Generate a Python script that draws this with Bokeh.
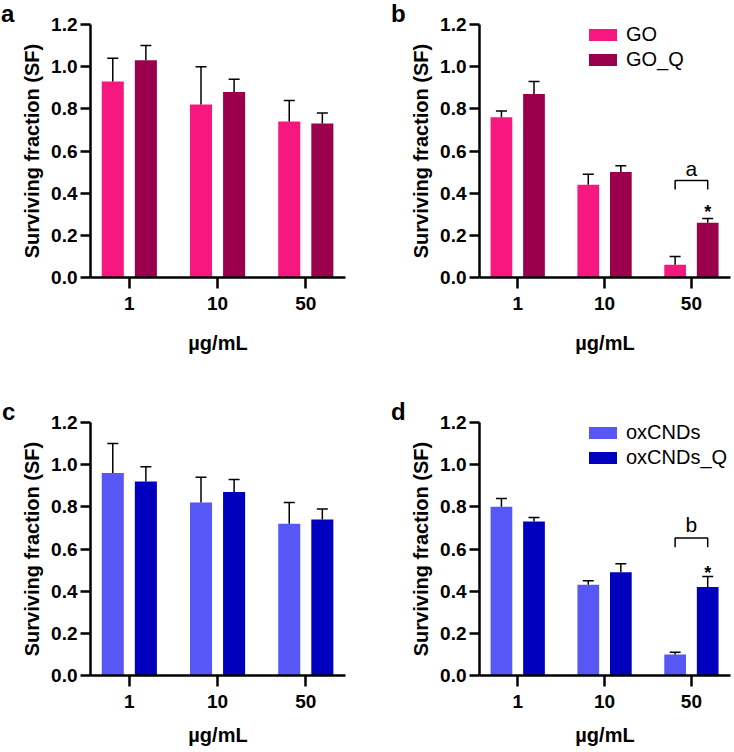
import numpy as np
from bokeh.plotting import figure
from bokeh.models import (Range1d, FixedTicker, ColumnDataSource, Whisker, TeeHead,
                          Legend, LegendItem, PrintfTickFormatter, Div)
from bokeh.layouts import column, row
from bokeh.embed import file_html
from bokeh.resources import INLINE
from bokeh.core.properties import value

# ---------------- data ----------------
concentrations = ["1", "10", "50"]
y_ticks = [0.0, 0.2, 0.4, 0.6, 0.8, 1.0, 1.2]

go_a = [0.93, 0.82, 0.74]
go_a_err = [0.11, 0.18, 0.10]
goq_a = [1.03, 0.88, 0.73]
goq_a_err = [0.07, 0.06, 0.05]

go_b = [0.76, 0.44, 0.06]
go_b_err = [0.03, 0.05, 0.04]
goq_b = [0.87, 0.50, 0.26]
goq_b_err = [0.06, 0.03, 0.02]

ox_c = [0.96, 0.82, 0.72]
ox_c_err = [0.14, 0.12, 0.10]
oxq_c = [0.92, 0.87, 0.74]
oxq_c_err = [0.07, 0.06, 0.05]

ox_d = [0.80, 0.43, 0.10]
ox_d_err = [0.04, 0.02, 0.01]
oxq_d = [0.73, 0.49, 0.42]
oxq_d_err = [0.02, 0.04, 0.05]

go_names = ["GO", "GO_Q"]
ox_names = ["oxCNDs", "oxCNDs_Q"]
go_colors = ["#F7187F", "#9B004C"]
ox_colors = ["#5757F5", "#0000BE"]

# significance annotations (panels b and d), at the 50 µg/mL group
sig_group = 2
sig_b = dict(label="a", top=0.46, leg=0.417, label_y=0.516, star_y=0.313)
sig_d = dict(label="b", top=0.652, leg=0.608, label_y=0.715, star_y=0.488)

FONT = "Liberation Sans"
OFFSET = 0.1875
BAR_W = 0.25
X_START = -0.44
X_END = 2.45


def letter_div(letter, w, h, left, top):
    html = ('<div style="position:relative; left:%dpx; top:%dpx; font-family:\'%s\'; '
            'font-weight:bold; font-size:24px; line-height:28px; color:black; '
            'margin:0; padding:0;">%s</div>') % (left, top, FONT, letter)
    return Div(text=html, width=w, height=h, margin=0)


def make_panel(s1, e1, s2, e2, colors, names, fig_w, fig_h,
               left, right, top, bottom, xlabel_standoff, legend_loc=None, sig=None):
    p = figure(width=fig_w, height=fig_h, output_backend="svg", toolbar_location=None,
               x_range=Range1d(X_START, X_END), y_range=Range1d(0, 1.2),
               min_border_left=left, min_border_right=right,
               min_border_top=top, min_border_bottom=bottom)
    p.outline_line_color = None
    p.xgrid.visible = False
    p.ygrid.visible = False

    idx = np.arange(len(concentrations))
    src1 = ColumnDataSource(dict(x=idx - OFFSET, top=s1, upper=np.array(s1) + np.array(e1)))
    src2 = ColumnDataSource(dict(x=idx + OFFSET, top=s2, upper=np.array(s2) + np.array(e2)))
    r1 = p.vbar(x="x", top="top", width=BAR_W, source=src1, fill_color=colors[0], line_color=None)
    r2 = p.vbar(x="x", top="top", width=BAR_W, source=src2, fill_color=colors[1], line_color=None)
    for src in (src1, src2):
        w = Whisker(base="x", lower="top", upper="upper", source=src, dimension="height",
                    line_color="black", line_width=1.5, lower_head=None,
                    upper_head=TeeHead(size=11, line_color="black", line_width=1.5),
                    level="overlay")
        p.add_layout(w)

    for ax in (p.xaxis[0], p.yaxis[0]):
        ax.axis_line_width = 2.5
        ax.axis_line_color = "black"
        ax.major_tick_line_width = 2.5
        ax.major_tick_line_color = "black"
        ax.major_tick_in = 0
        ax.minor_tick_line_color = None
        ax.major_label_text_font = FONT
        ax.major_label_text_font_style = "bold"
        ax.major_label_text_font_size = "19px"
        ax.major_label_text_color = "black"
        ax.axis_label_text_font = FONT
        ax.axis_label_text_font_style = "bold"
        ax.axis_label_text_font_size = "20px"
        ax.axis_label_text_color = "black"
    p.xaxis.ticker = FixedTicker(ticks=list(idx))
    p.xaxis.major_label_overrides = {int(i): c for i, c in zip(idx, concentrations)}
    p.xaxis.major_tick_out = 11
    p.xaxis.major_label_standoff = 8
    p.xaxis.axis_label = "µg/mL"
    p.xaxis.axis_label_standoff = xlabel_standoff
    p.yaxis.ticker = FixedTicker(ticks=y_ticks)
    p.yaxis.formatter = PrintfTickFormatter(format="%.1f")
    p.yaxis.major_tick_out = 10
    p.yaxis.major_label_standoff = 3
    p.yaxis.axis_label = "Surviving fraction (SF)"
    p.yaxis.axis_label_standoff = 5

    if legend_loc is not None:
        lg = Legend(items=[LegendItem(label=names[0], renderers=[r1]),
                           LegendItem(label=names[1], renderers=[r2])],
                    location=legend_loc, orientation="vertical",
                    border_line_color=None, background_fill_alpha=0,
                    padding=0, margin=0, spacing=2,
                    glyph_width=35, glyph_height=15, label_height=15, label_standoff=6,
                    label_text_font=FONT, label_text_font_size="20px",
                    label_text_color="black")
        p.add_layout(lg)

    if sig is not None:
        xl, xr = sig_group - OFFSET, sig_group + OFFSET
        p.line(x=[xl, xl, xr, xr], y=[sig["leg"], sig["top"], sig["top"], sig["leg"]],
               line_color="black", line_width=1.5)
        p.text(x=[sig_group], y=[sig["label_y"]], text=[sig["label"]],
               text_font=value(FONT), text_font_size="21px", text_color="black",
               text_align="center", text_baseline="middle")
        p.text(x=[xr], y=[sig["star_y"]], text=["*"],
               text_font=value(FONT), text_font_style="bold", text_font_size="18px",
               text_color="black", text_align="center", text_baseline="middle")
    return p


TOP_H, BOT_H = 370, 382

la = letter_div("a", 18, TOP_H, 1, 0)
pa = make_panel(go_a, go_a_err, goq_a, goq_a_err, go_colors, go_names,
                347, TOP_H, 72, 20, 24, 93, 19)
lb = letter_div("b", 42, TOP_H, 26, 0)
pb = make_panel(go_b, go_b_err, goq_b, goq_b_err, go_colors, go_names,
                327, TOP_H, 68, 4, 24, 93, 19, legend_loc=(106, 206), sig=sig_b)

lc = letter_div("c", 18, BOT_H, 2, 28)
pc = make_panel(ox_c, ox_c_err, oxq_c, oxq_c_err, ox_colors, ox_names,
                347, BOT_H, 72, 20, 52, 77, 13)
ld = letter_div("d", 42, BOT_H, 26, 28)
pd = make_panel(ox_d, ox_d_err, oxq_d, oxq_d_err, ox_colors, ox_names,
                327, BOT_H, 68, 4, 52, 77, 13, legend_loc=(106, 206), sig=sig_d)

layout = column(row(la, pa, lb, pb), row(lc, pc, ld, pd))
open("out.html", "w").write(file_html(layout, INLINE))
